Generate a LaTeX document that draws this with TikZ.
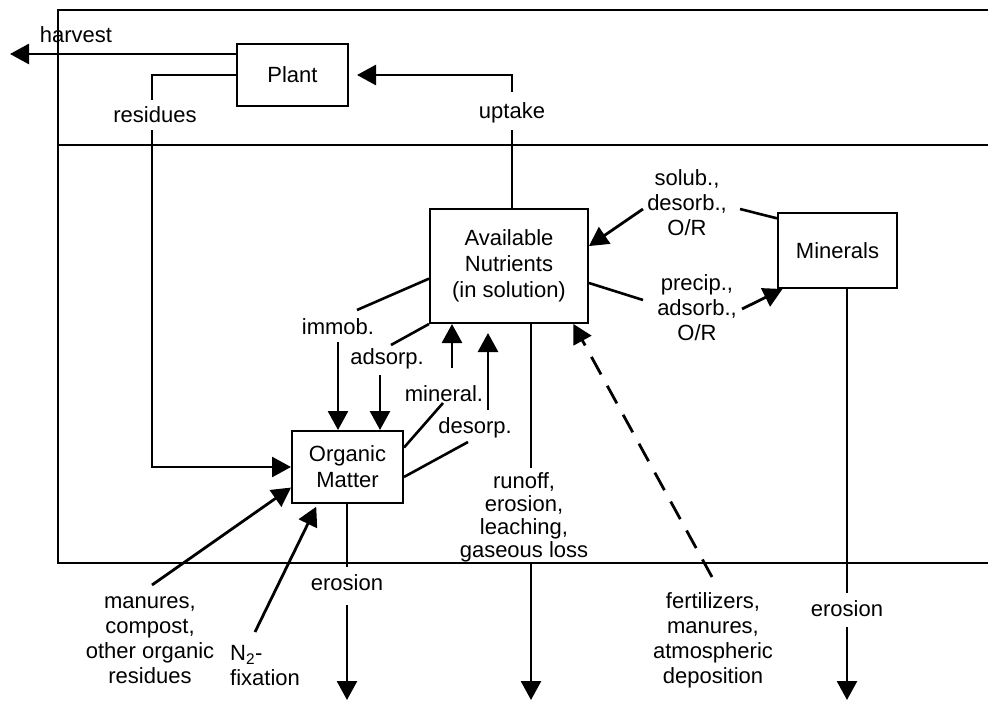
\documentclass[tikz,border=0pt]{standalone}
\usepackage{fontspec}
\setmainfont{Liberation Sans}
\usetikzlibrary{arrows.meta}
\begin{document}
\begin{tikzpicture}[x=1pt,y=-1pt,
  box/.style={draw,line width=2pt,inner sep=0pt,align=center,font=\fontsize{22}{26}\selectfont},
  lbl/.style={inner sep=0pt,align=center,font=\fontsize{22}{25}\selectfont},
  ln/.style={line width=2.6pt},
  arr/.style={line width=2.8pt,-{Triangle[length=19pt,width=20pt]}},
  frame/.style={line width=2pt}]
\useasboundingbox (0,0) rectangle (988,701);
\fill[white] (0,0) rectangle (988,701);
% frame
\draw[frame] (988,10) -- (58,10) -- (58,563) -- (988,563);
\draw[frame] (58,145) -- (988,145);
% boxes
\node[box,minimum width=111pt,minimum height=62pt] (plant) at (292.5,75) {Plant};
\node[box,minimum width=158pt,minimum height=114pt] (an) at (509,266) {Available\\Nutrients\\(in solution)};
\node[box,minimum width=119pt,minimum height=75pt] (min) at (837.5,250.5) {Minerals};
\node[box,minimum width=111pt,minimum height=72pt] (om) at (347.5,467) {Organic\\Matter};
% labels
\node[lbl] (harvestL) at (76,35) {harvest};
\node[lbl] (resL) at (155,115) {residues};
\node[lbl] (upL) at (512,113) {uptake};
\node[lbl] (immL) at (338,327) {immob.};
\node[lbl] (adsL) at (387,359) {adsorp.};
\node[lbl] (minlL) at (444,394) {mineral.};
\node[lbl] (desL) at (475,428) {desorp.};
\node[lbl] (solL) at (687,203) {solub.,\\desorb.,\\O/R};
\node[lbl] (preL) at (697,308) {precip.,\\adsorb.,\\O/R};
\node[lbl,font=\fontsize{22}{23}\selectfont] (runL) at (524,517) {runoff,\\erosion,\\leaching,\\gaseous loss};
\node[lbl] (fertL) at (713,640) {fertilizers,\\manures,\\atmospheric\\deposition};
\node[lbl] (eroOM) at (347,583) {erosion};
\node[lbl] (eroMin) at (847,609) {erosion};
\node[lbl] (manL) at (150,640) {manures,\\compost,\\other organic\\residues};
\node[lbl,align=left,anchor=west] (n2L) at (230,666) {N\textsubscript{2}-\\fixation};
% harvest
\coordinate (hvEnd) at (10,54);
\draw[arr] (plant.west |- hvEnd) -- (hvEnd);
% residues
\coordinate (resA) at (152,100);
\coordinate (resB) at (152,130);
\draw[ln] (plant.west) -| (resA);
\draw[arr] (resB) |- (om.west);
% uptake
\coordinate (upA) at (512,92);
\coordinate (upB) at (512,130);
\draw[arr,shorten >=8pt] (upA) |- (plant.east);
\draw[ln] (an.north -| upB) -- (upB);
% immob
\coordinate (immA) at (357,310);
\draw[ln] (an.189) -- (immA);
\coordinate (immB) at (338,342);
\draw[arr] (immB) -- (om.north -| immB);
% adsorp
\coordinate (adsA) at (391,345);
\draw[ln] (an.south west) -- (adsA);
\coordinate (adsB) at (380,375);
\draw[arr] (adsB) -- (om.north -| adsB);
% mineral
\coordinate (minA) at (443,403);
\draw[ln] (om.19) -- (minA);
\coordinate (minB) at (452,368);
\draw[arr] (minB) -- (an.south -| minB);
% desorp
\coordinate (desA) at (468,442);
\draw[ln] (om.-10) -- (desA);
\coordinate (desB) at (488,410);
\draw[arr,shorten >=9pt] (desB) -- (an.south -| desB);
% solub
\coordinate (solA) at (740,209);
\draw[ln] (min.152) -- (solA);
\coordinate (solB) at (643,209);
\draw[arr] (solB) -- (an.14);
% precip
\coordinate (preA) at (643,300);
\draw[ln] (an.-12) -- (preA);
\coordinate (preB) at (742,309);
\draw[arr] (preB) -- (min.215);
% runoff
\coordinate (runA) at (531,468);
\draw[ln] (an.south -| runA) -- (runA);
\coordinate (runB) at (531,563);
\coordinate (runC) at (531,700);
\draw[arr] (runB) -- (runC);
% fertilizers (dashed)
\coordinate (fertA) at (712,577);
\draw[arr,dash pattern=on 20pt off 13pt] (fertA) -- (an.-42);
% minerals erosion
\coordinate (meA) at (847,593);
\draw[ln] (min.south -| meA) -- (meA);
\coordinate (meB) at (847,627);
\coordinate (meC) at (847,700);
\draw[arr] (meB) -- (meC);
% organic matter erosion
\coordinate (oeA) at (347,567);
\draw[ln] (om.south -| oeA) -- (oeA);
\coordinate (oeB) at (347,605);
\coordinate (oeC) at (347,700);
\draw[arr] (oeB) -- (oeC);
% manures
\coordinate (manA) at (152,585);
\draw[arr] (manA) -- (om.200);
% N2 fixation
\coordinate (n2A) at (255,632);
\draw[arr,shorten >=3pt] (n2A) -- (om.231);
\end{tikzpicture}
\end{document}
